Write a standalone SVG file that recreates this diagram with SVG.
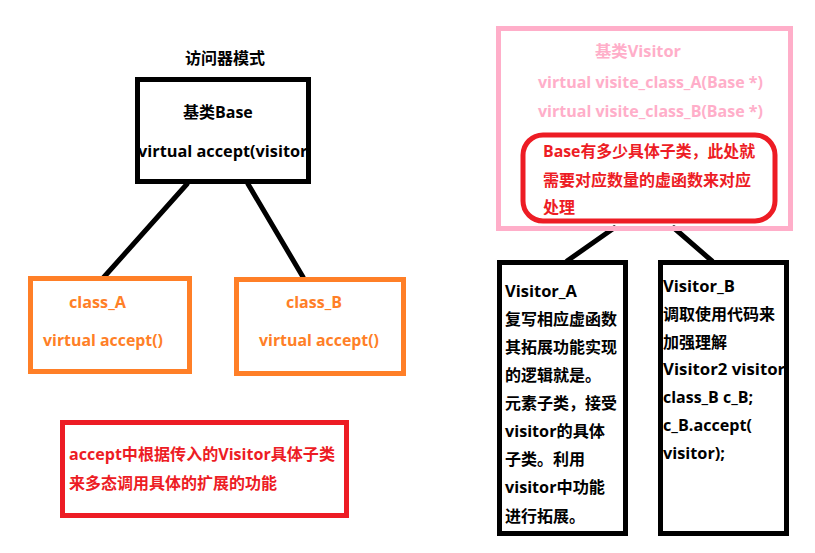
<svg xmlns="http://www.w3.org/2000/svg" width="815" height="553" viewBox="0 0 815 553">
<style>
text{font-family:"Open Sans","Noto Sans CJK SC",sans-serif;font-weight:bold;font-size:16px}
.k{fill:#000}
.o{fill:#ff7f27}
.r{fill:#ed1c24}
.p{fill:#ffaec9}
.bk{fill:none;stroke:#000;stroke-width:5}
.bo{fill:none;stroke:#ff7f27;stroke-width:5}
.br{fill:none;stroke:#ed1c24;stroke-width:5}
.bp{fill:none;stroke:#ffaec9;stroke-width:5}
.ln{stroke:#000;stroke-width:5;stroke-linecap:round}
</style>
<defs>
<clipPath id="cBase"><rect x="135" y="77" width="174" height="107"/></clipPath>
<clipPath id="cVB"><rect x="658" y="260" width="129" height="276"/></clipPath>
</defs>
<rect width="815" height="553" fill="#fff"/>
<text id="title" class="k" x="185" y="64">访问器模式</text>
<g id="connectors">
<line class="ln" x1="187" y1="184" x2="104" y2="277"/>
<line class="ln" x1="248" y1="184" x2="303" y2="277"/>
<line class="ln" x1="614" y1="228" x2="567" y2="261"/>
<line class="ln" x1="674" y1="228" x2="712" y2="261"/>
</g>
<g id="base">
<g clip-path="url(#cBase)">
<text class="k" x="183" y="118">基类Base</text>
<text class="k" x="138" y="157" textLength="175" lengthAdjust="spacingAndGlyphs">virtual accept(visitor)</text>
</g>
<rect class="bk" x="137.5" y="79.5" width="171" height="102"/>
</g>
<g id="classA">
<rect class="bo" x="30.5" y="278.5" width="159" height="93"/>
<text class="o" x="69" y="308" textLength="57" lengthAdjust="spacingAndGlyphs">class_A</text>
<text class="o" x="43" y="346" textLength="120" lengthAdjust="spacingAndGlyphs">virtual accept()</text>
</g>
<g id="classB">
<rect class="bo" x="236.5" y="279.5" width="167" height="94"/>
<text class="o" x="286" y="308" textLength="56" lengthAdjust="spacingAndGlyphs">class_B</text>
<text class="o" x="259" y="346" textLength="120" lengthAdjust="spacingAndGlyphs">virtual accept()</text>
</g>
<g id="note">
<rect class="br" x="62.5" y="422.5" width="284" height="93"/>
<text class="r" x="69" y="460" textLength="266" lengthAdjust="spacingAndGlyphs">accept中根据传入的Visitor具体子类</text>
<text class="r" x="69" y="489" textLength="208" lengthAdjust="spacingAndGlyphs">来多态调用具体的扩展的功能</text>
</g>
<g id="visitor">
<rect class="bp" x="498.5" y="28.5" width="292" height="200"/>
<text class="p" x="595" y="57" textLength="86" lengthAdjust="spacingAndGlyphs">基类Visitor</text>
<text class="p" x="538" y="88" textLength="225" lengthAdjust="spacingAndGlyphs">virtual visite_class_A(Base *)</text>
<text class="p" x="538" y="117" textLength="225" lengthAdjust="spacingAndGlyphs">virtual visite_class_B(Base *)</text>
</g>
<g id="visitorNote">
<rect class="br" x="523" y="135" width="252" height="86" rx="20" ry="20"/>
<text class="r" x="543" y="157" textLength="212" lengthAdjust="spacingAndGlyphs">Base有多少具体子类，此处就</text>
<text class="r" x="543" y="186" textLength="208" lengthAdjust="spacingAndGlyphs">需要对应数量的虚函数来对应</text>
<text class="r" x="543" y="213">处理</text>
</g>
<g id="visitorA">
<rect class="bk" x="499.5" y="262.5" width="126" height="271"/>
<text class="k" x="505" y="297" textLength="72" lengthAdjust="spacingAndGlyphs">Visitor_A</text>
<text class="k" x="505" y="325">复写相应虚函数</text>
<text class="k" x="505" y="353">其拓展功能实现</text>
<text class="k" x="505" y="381">的逻辑就是。</text>
<text class="k" x="505" y="409">元素子类，接受</text>
<text class="k" x="505" y="437" textLength="100" lengthAdjust="spacingAndGlyphs">visitor的具体</text>
<text class="k" x="505" y="465">子类。利用</text>
<text class="k" x="505" y="493" textLength="100" lengthAdjust="spacingAndGlyphs">visitor中功能</text>
<text class="k" x="505" y="522">进行拓展。</text>
</g>
<g id="visitorB">
<g clip-path="url(#cVB)">
<text class="k" x="663" y="292" textLength="72" lengthAdjust="spacingAndGlyphs">Visitor_B</text>
<text class="k" x="663" y="320">调取使用代码来</text>
<text class="k" x="663" y="348">加强理解</text>
<text class="k" x="663" y="375" textLength="127" lengthAdjust="spacingAndGlyphs">Visitor2 visitor;</text>
<text class="k" x="663" y="403" textLength="90" lengthAdjust="spacingAndGlyphs">class_B c_B;</text>
<text class="k" x="663" y="431" textLength="89" lengthAdjust="spacingAndGlyphs">c_B.accept(</text>
<text class="k" x="663" y="459" textLength="62" lengthAdjust="spacingAndGlyphs">visitor);</text>
</g>
<rect class="bk" x="660.5" y="262.5" width="126" height="271"/>
</g>
</svg>
